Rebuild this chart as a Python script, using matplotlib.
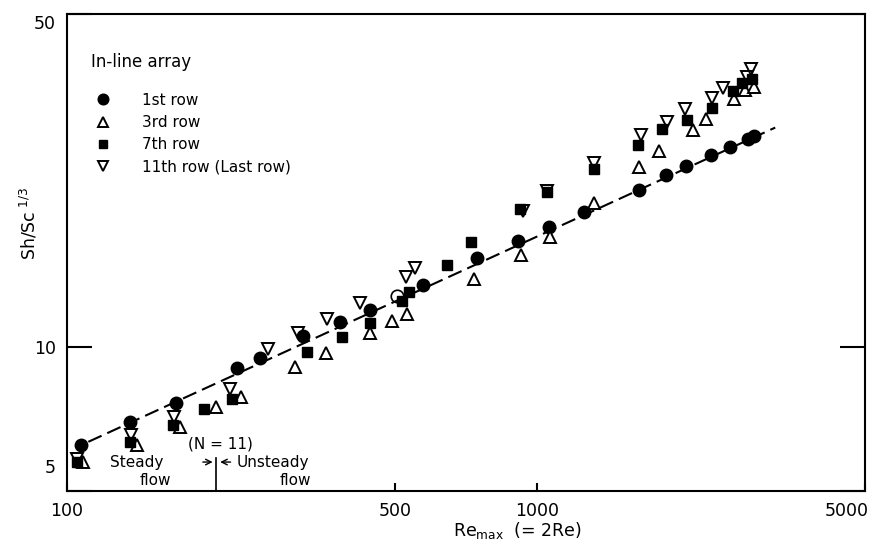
import matplotlib
matplotlib.use("Agg")
import matplotlib.pyplot as plt
from matplotlib.ticker import FixedLocator, NullLocator, FixedFormatter
from matplotlib.transforms import ScaledTranslation

# 1st row (filled circles)
row1_x = [107, 136, 171, 230, 257, 318, 381, 442, 572, 745, 914, 1064, 1260,
          1651, 1885, 2076, 2346, 2579, 2822, 2906]
row1_y = [6.25, 6.98, 7.64, 9.04, 9.52, 10.57, 11.29, 11.98, 13.5, 15.4, 16.7,
          17.9, 19.26, 21.4, 23.0, 24.0, 25.3, 26.3, 27.4, 27.8]

# 3rd row (open up-triangles)
row3_x = [108, 141, 174, 208, 235, 306, 356, 442, 491, 530, 736, 925, 1068,
          1324, 1651, 1824, 2155, 2290, 2630, 2777, 2900]
row3_y = [5.76, 6.25, 6.82, 7.49, 7.86, 9.11, 9.72, 10.7, 11.36, 11.73, 13.94,
          15.6, 17.07, 20.05, 23.9, 25.8, 28.6, 30.1, 33.1, 34.6, 35.2]

# 7th row (filled squares)
row7_x = [105, 136, 168, 196, 225, 325, 385, 442, 516, 535, 645, 724, 921,
          1053, 1326, 1641, 1851, 2086, 2365, 2621, 2732, 2869]
row7_y = [5.76, 6.34, 6.87, 7.42, 7.78, 9.80, 10.5, 11.23, 12.53, 13.08, 14.9,
          16.6, 19.5, 21.2, 23.7, 26.6, 28.7, 30.0, 31.7, 34.4, 35.8, 36.5]

# 11th row, last row (open down-triangles)
row11_x = [105, 137, 169, 222, 268, 310, 357, 420, 527, 551, 934, 1053, 1326,
           1668, 1892, 2069, 2358, 2496, 2800, 2855]
row11_y = [5.84, 6.55, 7.15, 8.17, 9.91, 10.7, 11.47, 12.4, 14.07, 14.65, 19.3,
           21.3, 24.3, 27.9, 29.7, 31.6, 33.4, 34.9, 36.9, 38.4]

# stray open circle
open_x = [503]
open_y = [12.8]

# dashed correlation line for 1st row
fit_x = [111, 3220]
fit_y = [6.34, 28.9]

# steady/unsteady transition (N=11)
transition_re = 208

x_ticks = [100, 500, 1000, 5000]
y_ticks = [5, 10, 50]

fig = plt.figure(figsize=(8.89, 5.52), dpi=100)
ax = fig.add_axes([0.0754, 0.1105, 0.8976, 0.8641])
ax.set_xscale("log")
ax.set_yscale("log")
ax.set_xlim(100, 5000)
ax.set_ylim(5, 50)

ax.plot(fit_x, fit_y, color="black", lw=1.5, ls=(0, (7, 3)), zorder=1)

ax.plot(row1_x, row1_y, "o", ms=9, mfc="black", mec="black",
        label="1st row", zorder=3)
ax.plot(row3_x, row3_y, "^", ms=9, mfc="white", mec="black", mew=1.4,
        label="3rd row", zorder=3)
ax.plot(row7_x, row7_y, "s", ms=7.5, mfc="black", mec="black",
        label="7th row", zorder=3)
ax.plot(row11_x, row11_y, "v", ms=9, mfc="none", mec="black", mew=1.4,
        label="11th row (Last row)", zorder=4)
ax.plot(open_x, open_y, "o", ms=9, mfc="none", mec="black", mew=1.2, zorder=2)

# axes / ticks
for s in ax.spines.values():
    s.set_linewidth(1.5)
ax.xaxis.set_major_locator(FixedLocator(x_ticks))
ax.xaxis.set_major_formatter(FixedFormatter([str(v) for v in x_ticks]))
ax.xaxis.set_minor_locator(NullLocator())
ax.yaxis.set_major_locator(FixedLocator(y_ticks))
ax.yaxis.set_major_formatter(FixedFormatter([str(v) for v in y_ticks]))
ax.yaxis.set_minor_locator(NullLocator())
ax.tick_params(axis="x", direction="in", length=6, width=1.5, labelsize=12.5, pad=8)
ax.tick_params(axis="y", direction="in", length=18, width=1.5, labelsize=12.5,
               pad=8, right=True)

# nudge end labels like the original
lbls = ax.get_yticklabels()
lbls[0].set_transform(lbls[0].get_transform() + ScaledTranslation(0, 0.25, fig.dpi_scale_trans))
lbls[-1].set_transform(lbls[-1].get_transform() + ScaledTranslation(0, -0.08, fig.dpi_scale_trans))
xl = ax.get_xticklabels()
xl[-1].set_transform(xl[-1].get_transform() + ScaledTranslation(-0.18, 0, fig.dpi_scale_trans))

ax.set_xlabel(r"Re$_{\mathrm{max}}$  (= 2Re)", fontsize=12.5)
ax.xaxis.set_label_coords(0.565, -0.06)
ax.set_ylabel(r"Sh/Sc$^{\ 1/3}$", fontsize=12.5)
ax.yaxis.set_label_coords(-0.035, 0.56)

# legend
ax.text(0.03, 0.9, "In-line array", transform=ax.transAxes, fontsize=12,
        ha="left", va="center")
ax.legend(loc="upper left", bbox_to_anchor=(0.036, 0.835), frameon=False,
          fontsize=11, handlelength=1, handletextpad=2.0, labelspacing=0.48,
          borderpad=0, borderaxespad=0, markerscale=0.85)

# steady / unsteady annotation
ax.plot([transition_re, transition_re], [5, 5.87], color="black", lw=1.2)
ax.annotate("", xy=(207, 5.75), xytext=(192, 5.75),
            arrowprops=dict(arrowstyle="->", lw=1, color="black"))
ax.annotate("", xy=(209, 5.75), xytext=(226, 5.75),
            arrowprops=dict(arrowstyle="->", lw=1, color="black"))
ax.text(212, 6.27, "(N = 11)", fontsize=11, ha="center", va="center")
ax.text(141, 5.75, "Steady", fontsize=11, ha="center", va="center")
ax.text(154, 5.27, "flow", fontsize=11, ha="center", va="center")
ax.text(275, 5.75, "Unsteady", fontsize=11, ha="center", va="center")
ax.text(306, 5.27, "flow", fontsize=11, ha="center", va="center")

fig.savefig("out.png", dpi=100)
